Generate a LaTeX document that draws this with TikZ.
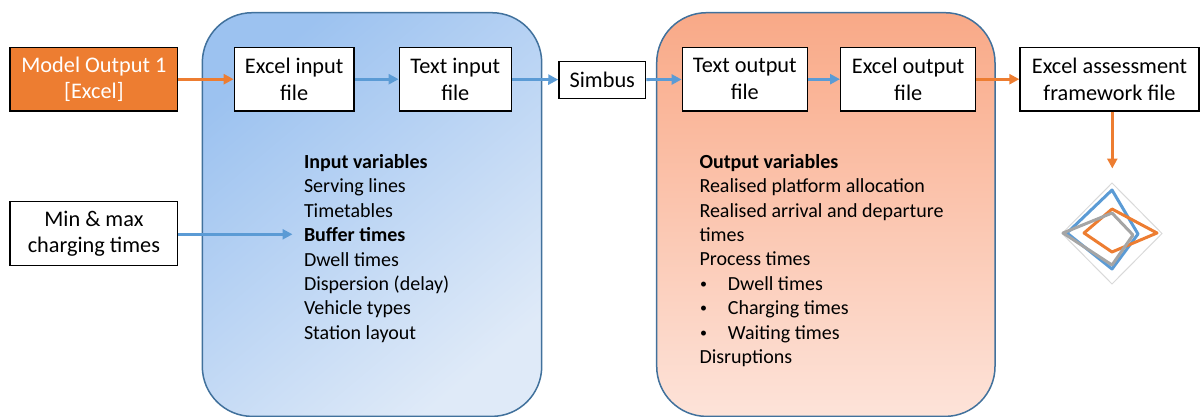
\documentclass[tikz,border=0pt]{standalone}
\usepackage{fontspec}
\setmainfont{Carlito}
\usetikzlibrary{arrows.meta}
\definecolor{xorange}{HTML}{ED7D31}
\definecolor{xblue}{HTML}{5B9BD5}
\definecolor{xgray}{HTML}{A5A5A5}
\definecolor{regionline}{HTML}{41719C}
\definecolor{bluetop}{HTML}{9CC2F0}
\definecolor{bluebot}{HTML}{DFEAF8}
\definecolor{orgtop}{HTML}{F9A987}
\definecolor{orgbot}{HTML}{FDE3D9}
\newcommand{\smallbul}{\makebox[28.4pt][l]{\hspace{0.5pt}\raisebox{1.8pt}{\fontsize{14}{14}\selectfont\textbullet}}}
\begin{document}
\begin{tikzpicture}[x=1pt,y=-1pt,
  filebox/.style={draw=black, line width=1.4pt, fill=white, align=center, inner sep=0pt,
    minimum height=63.7pt, font=\fontsize{22.3}{26.6}\selectfont},
  bluearrow/.style={draw=xblue, line width=2.8pt, -{Triangle[length=10pt,width=10pt]}},
  orangearrow/.style={draw=xorange, line width=2.8pt, -{Triangle[length=10pt,width=10pt]}},
  listtext/.style={align=left, inner sep=0pt, anchor=base west, font=\fontsize{20}{24.4}\selectfont},
  region/.style={draw=regionline, line width=1.5pt, rounded corners=50pt},
  radargrid/.style={draw=black!15, line width=1pt},
  radarline/.style={line width=3pt, line join=round}]
\useasboundingbox (0,0) rectangle (1201,417);

% regions
\path[region, top color=bluetop, bottom color=bluebot, shading angle=40]
  (202.3,12.7) rectangle (541.7,416.4);
\path[region, top color=orgtop, bottom color=orgbot]
  (656.7,12.7) rectangle (995,416.4);

% boxes
\node[filebox, fill=xorange, text=white, minimum width=167.7pt] (mo) at (93.9,79.2) {Model Output 1\\{[}Excel{]}};
\node[filebox, minimum width=119.7pt] (ei) at (294.2,79.2) {Excel input\\file};
\node[filebox, minimum width=112pt] (ti) at (455.3,79.2) {Text input\\file};
\node[filebox, minimum width=86.7pt, minimum height=37pt] (sb) at (602.3,79.8) {Simbus};
\node[filebox, minimum width=125pt] (to) at (744.8,79.2) {Text output\\file};
\node[filebox, minimum width=135pt] (eo) at (908.2,79.2) {Excel output\\file};
\node[filebox, minimum width=179pt] (ea) at (1109.5,79.2) {Excel assessment\\framework file};
\node[filebox, minimum width=167.7pt, minimum height=64pt] (mm) at (93.9,233.7) {Min \& max\\charging times};

% lists (anchored at the baseline of their last line)
\node[listtext] (inlist) at (303.8,339.3) {\textbf{Input variables}\\Serving lines\\Timetables\\\textbf{Buffer times}\\Dwell times\\Dispersion (delay)\\Vehicle types\\Station layout};
\node[listtext] (outlist) at (699.3,363.5) {\textbf{Output variables}\\Realised platform allocation\\Realised arrival and departure\\times\\Process times\\\smallbul Dwell times\\\smallbul Charging times\\\smallbul Waiting times\\Disruptions};

% connectors
\coordinate (buf) at (292.5,234.3);
\coordinate (radar) at (1112.3,168.5);
\draw[orangearrow] (mo) -- (ei);
\draw[bluearrow] (ei) -- (ti);
\draw[bluearrow] (ti) -- (sb);
\draw[bluearrow] (sb) -- (to);
\draw[bluearrow] (to) -- (eo);
\draw[orangearrow] (eo) -- (ea);
\draw[bluearrow] (mm.east |- buf) -- (buf);
\draw[orangearrow] (ea.south -| radar) -- (radar);

% radar chart
\draw[radargrid] (1112,183) -- (1162,233.5) -- (1112,284) -- (1062,233.5) -- cycle;
\draw[radarline, draw=xblue] (1112,190) -- (1138,234) -- (1112,269) -- (1067,233) -- cycle;
\draw[radarline, draw=xorange] (1112,209) -- (1157,233) -- (1112,252) -- (1084,233) -- cycle;
\draw[radarline, draw=xgray] (1112,213) -- (1133,235) -- (1112,265) -- (1063,233) -- cycle;
\end{tikzpicture}
\end{document}
